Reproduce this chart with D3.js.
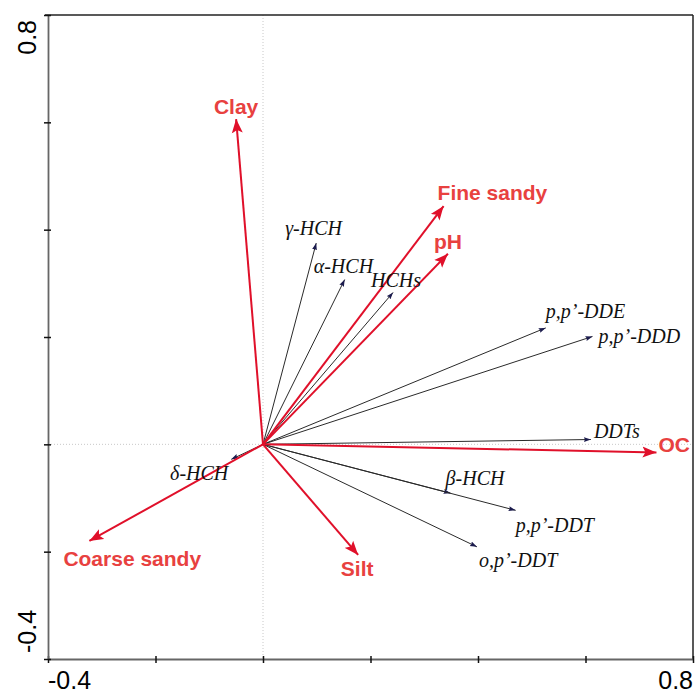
<!DOCTYPE html>
<html>
<head>
<meta charset="utf-8">
<script src="https://cdn.jsdelivr.net/npm/d3@7"></script>
<style>
  html, body { margin: 0; padding: 0; background: #fff; }
  svg { display: block; }
  .env  { font: bold 21px "Liberation Sans", Arial, sans-serif; fill: #e8413f; }
  .spc  { font: italic 20px "Liberation Serif", "Times New Roman", serif; fill: #111; }
  .tick-lbl { font: 25px "Liberation Sans", Arial, sans-serif; fill: #000; }
</style>
</head>
<body>
<svg id="chart" width="695" height="695"></svg>
<script>
// environmental variables (red arrows)
const envNames = ['Clay', 'Fine sandy', 'pH', 'OC', 'Silt', 'Coarse sandy'];
const envX     = [-0.050, 0.336, 0.344, 0.732, 0.177, -0.323];
const envY     = [ 0.606, 0.444, 0.355, -0.015, -0.206, -0.180];

// compounds (black arrows)
const spcNames = ['\u03b3-HCH', '\u03b1-HCH', 'HCHs', 'p,p\u2019-DDE', 'p,p\u2019-DDD', 'DDTs',
                  '\u03b2-HCH', 'p,p\u2019-DDT', 'o,p\u2019-DDT', '\u03b4-HCH'];
const spcX     = [0.099, 0.152, 0.242, 0.526, 0.613, 0.610, 0.349, 0.470, 0.398, -0.059];
const spcY     = [0.375, 0.307, 0.283, 0.217, 0.201, 0.009, -0.091, -0.123, -0.191, -0.028];

const tickVals   = [-0.4, -0.2, 0, 0.2, 0.4, 0.6, 0.8];
const tickLabels = ['-0.4', '0.8'];

// label nudges in px from arrow tip: [dx, dy, anchor]
const labPos = {
  'Clay': [0, -5, 'middle'], 'Fine sandy': [-6, -6, 'start'], 'pH': [-14, -5, 'start'],
  'OC': [2, 0, 'start'], 'Silt': [-1, 21, 'middle'], 'Coarse sandy': [-26, 25, 'start'],
  '\u03b3-HCH': [-31, -8, 'start'], '\u03b1-HCH': [-31, -7, 'start'], 'HCHs': [-22, -5, 'start'],
  'p,p\u2019-DDE': [0, -10, 'start'], 'p,p\u2019-DDD': [6, 7, 'start'], 'DDTs': [3, -2, 'start'],
  '\u03b2-HCH': [-5, -8, 'start'], 'p,p\u2019-DDT': [0, 22, 'start'], 'o,p\u2019-DDT': [2, 20, 'start'],
  '\u03b4-HCH': [-3, 21, 'end']
};

const svg = d3.select('#chart');
const L = 48, R = 693, T = 15, B = 659;
const x = d3.scaleLinear().domain([-0.4, 0.8]).range([L, R]);
const y = d3.scaleLinear().domain([-0.4, 0.8]).range([B, T]);

const defs = svg.append('defs');
defs.append('marker').attr('id', 'hRed').attr('markerUnits', 'userSpaceOnUse')
  .attr('viewBox', '-14 -6 15 12').attr('refX', 0).attr('refY', 0)
  .attr('markerWidth', 15).attr('markerHeight', 12).attr('orient', 'auto')
  .append('path').attr('d', 'M0,0 L-14,-5.5 L-11,0 L-14,5.5 Z').attr('fill', '#e0102a');
defs.append('marker').attr('id', 'hBlk').attr('markerUnits', 'userSpaceOnUse')
  .attr('viewBox', '-7 -3 8 6').attr('refX', 0).attr('refY', 0)
  .attr('markerWidth', 8).attr('markerHeight', 6).attr('orient', 'auto')
  .append('path').attr('d', 'M0,0 L-7,-2.5 L-6,0 L-7,2.5 Z').attr('fill', '#1b1b4d');

// zero lines
svg.append('line').attr('x1', L).attr('x2', R).attr('y1', y(0)).attr('y2', y(0))
  .attr('stroke', '#c8c8c8').attr('stroke-width', 1).attr('stroke-dasharray', '1,2');
svg.append('line').attr('x1', x(0)).attr('x2', x(0)).attr('y1', T).attr('y2', B)
  .attr('stroke', '#c8c8c8').attr('stroke-width', 1).attr('stroke-dasharray', '1,2');

// frame
svg.append('line').attr('x1', L - 3).attr('x2', R).attr('y1', T).attr('y2', T).attr('stroke', '#222').attr('stroke-width', 1.5);
svg.append('line').attr('x1', R).attr('x2', R).attr('y1', T).attr('y2', B).attr('stroke', '#222').attr('stroke-width', 1.5);

const ax = svg.append('g').attr('transform', `translate(0,${B})`)
  .call(d3.axisBottom(x).tickValues(tickVals).tickSize(4).tickSizeOuter(0).tickFormat(''));
const ay = svg.append('g').attr('transform', `translate(${L},0)`)
  .call(d3.axisLeft(y).tickValues(tickVals).tickSize(4).tickSizeOuter(0).tickFormat(''));
[ax, ay].forEach(g => {
  g.select('.domain').attr('stroke', '#666').attr('stroke-width', 1.8);
  g.selectAll('.tick line').attr('stroke', '#111').attr('stroke-width', 1.5);
});
ax.selectAll('.tick line').attr('y1', -3);
ay.selectAll('.tick line').attr('x1', 3);

// tick labels at the ends only
svg.append('text').attr('class', 'tick-lbl').attr('x', L).attr('y', 689).attr('text-anchor', 'start').text(tickLabels[0]);
svg.append('text').attr('class', 'tick-lbl').attr('x', R).attr('y', 689).attr('text-anchor', 'end').text(tickLabels[1]);
svg.append('text').attr('class', 'tick-lbl').attr('transform', `translate(36,${B - 6}) rotate(-90)`).attr('text-anchor', 'start').text(tickLabels[0]);
svg.append('text').attr('class', 'tick-lbl').attr('transform', `translate(36,${T + 5}) rotate(-90)`).attr('text-anchor', 'end').text(tickLabels[1]);

const spc = spcNames.map((n, i) => ({ n, x: spcX[i], y: spcY[i] }));
const env = envNames.map((n, i) => ({ n, x: envX[i], y: envY[i] }));

svg.append('g').selectAll('line').data(spc).join('line')
  .attr('x1', x(0)).attr('y1', y(0)).attr('x2', d => x(d.x)).attr('y2', d => y(d.y))
  .attr('stroke', '#2a2a2a').attr('stroke-width', 1).attr('marker-end', 'url(#hBlk)');

svg.append('g').selectAll('line').data(env).join('line')
  .attr('x1', x(0)).attr('y1', y(0)).attr('x2', d => x(d.x)).attr('y2', d => y(d.y))
  .attr('stroke', '#e0102a').attr('stroke-width', 2).attr('marker-end', 'url(#hRed)');

svg.append('g').selectAll('text').data(spc).join('text').attr('class', 'spc')
  .attr('x', d => x(d.x) + labPos[d.n][0]).attr('y', d => y(d.y) + labPos[d.n][1])
  .attr('text-anchor', d => labPos[d.n][2]).text(d => d.n);

svg.append('g').selectAll('text').data(env).join('text').attr('class', 'env')
  .attr('x', d => x(d.x) + labPos[d.n][0]).attr('y', d => y(d.y) + labPos[d.n][1])
  .attr('text-anchor', d => labPos[d.n][2]).text(d => d.n);
</script>
</body>
</html>
